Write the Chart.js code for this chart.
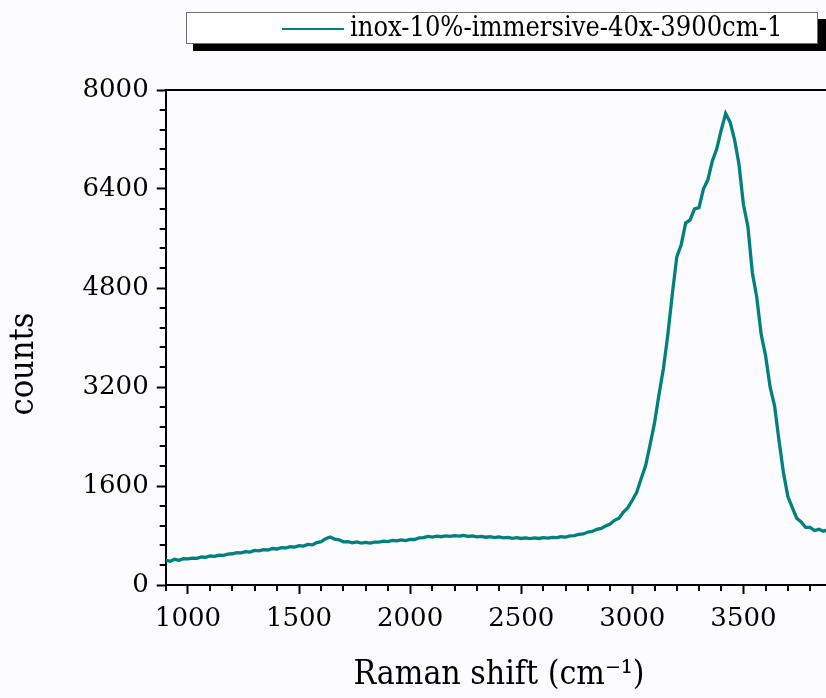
<!DOCTYPE html>
<html><head><meta charset="utf-8">
<script src="https://cdn.jsdelivr.net/npm/chart.js@4.4.1/dist/chart.umd.min.js"></script>
<style>
html,body{margin:0;padding:0;background:#fcfbfe;overflow:hidden;width:826px;height:698px}
#wrap{position:absolute;left:0;top:0;width:834px;height:698px}
</style>
</head><body><div id="wrap"><canvas id="c"></canvas></div>
<script>
const SERIES_LABEL = 'inox-10%-immersive-40x-3900cm-1';
const X_TITLE = 'Raman shift (cm\u207B\u00B9)';
const Y_TITLE = 'counts';
const WAVENUMBER = [900,920,940,960,980,1000,1020,1040,1060,1080,1100,1120,1140,1160,1180,1200,1220,1240,1260,1280,1300,1320,1340,1360,1380,1400,1420,1440,1460,1480,1500,1520,1540,1560,1580,1600,1620,1640,1660,1680,1700,1720,1740,1760,1780,1800,1820,1840,1860,1880,1900,1920,1940,1960,1980,2000,2020,2040,2060,2080,2100,2120,2140,2160,2180,2200,2220,2240,2260,2280,2300,2320,2340,2360,2380,2400,2420,2440,2460,2480,2500,2520,2540,2560,2580,2600,2620,2640,2660,2680,2700,2720,2740,2760,2780,2800,2820,2840,2860,2880,2900,2920,2940,2960,2980,3000,3020,3040,3060,3080,3100,3120,3140,3160,3180,3200,3220,3240,3260,3280,3300,3320,3340,3360,3380,3400,3420,3440,3460,3480,3500,3520,3540,3560,3580,3600,3620,3640,3660,3680,3700,3720,3740,3760,3780,3800,3820,3840,3860,3880];
const COUNTS = [400,385,415,398,425,422,435,430,452,446,
  468,462,484,478,498,505,523,518,540,532,
  558,552,572,566,590,582,604,598,618,612,
  636,628,655,648,685,700,748,775,742,730,
  698,700,682,695,678,688,676,694,692,708,
  700,720,712,728,718,738,735,760,765,785,
  775,790,780,795,786,798,790,800,785,792,
  778,786,772,780,765,776,762,770,755,765,
  752,762,750,760,752,765,758,770,766,780,
  775,795,798,820,825,855,865,900,915,955,
  985,1045,1080,1180,1250,1370,1500,1720,1930,2270,
  2620,3080,3500,4050,4700,5300,5500,5850,5900,6080,
  6100,6400,6550,6850,7050,7350,7620,7480,7200,6800,
  6150,5800,5050,4650,4050,3700,3200,2900,2340,1820,
  1430,1250,1080,1020,930,930,880,900,870,890];
const X_TICKS = [1000,1500,2000,2500,3000,3500];
const Y_TICKS = [0,1600,3200,4800,6400,8000];

const FONT = '"DejaVu Serif Condensed", "DejaVu Serif", serif';
const TICK_FONT = '"DejaVu Serif", serif';
const BG = '#fcfbfe';
const LINE = '#00807f';

const decor = {
  id: 'decor',
  beforeDraw(chart) {
    const {ctx, width, height} = chart;
    ctx.save(); ctx.fillStyle = BG; ctx.fillRect(0, 0, width, height); ctx.restore();
  },
  afterDraw(chart) {
    const {ctx, chartArea: a, scales: {x, y}} = chart;
    ctx.save();
    ctx.strokeStyle = '#000'; ctx.lineWidth = 2;
    ctx.beginPath(); ctx.moveTo(a.left - 1, a.top); ctx.lineTo(a.right, a.top); ctx.stroke();
    ctx.beginPath();
    for (let v = 900; v <= 3900; v += 100) {
      if (v % 500 === 0) continue;
      const px = Math.round(x.getPixelForValue(v));
      ctx.moveTo(px, a.bottom); ctx.lineTo(px, a.bottom + 6);
    }
    for (let v = 320; v < 8000; v += 320) {
      if (v % 1600 === 0) continue;
      const py = Math.round(y.getPixelForValue(v));
      ctx.moveTo(a.left, py); ctx.lineTo(a.left - 6, py);
    }
    ctx.stroke();
    // y title
    ctx.save();
    ctx.translate(24, 364); ctx.rotate(-Math.PI / 2);
    ctx.fillStyle = '#000'; ctx.font = '34px ' + FONT; ctx.textAlign = 'center'; ctx.textBaseline = 'middle';
    ctx.fillText(Y_TITLE, 0, 0);
    ctx.restore();
    // legend
    ctx.fillStyle = '#000'; ctx.fillRect(193, 19, 633, 32);
    ctx.fillStyle = '#fff'; ctx.fillRect(186, 12, 632, 32);
    ctx.strokeStyle = '#6e6e6e'; ctx.lineWidth = 1; ctx.strokeRect(186.5, 12.5, 631, 31);
    ctx.strokeStyle = LINE; ctx.lineWidth = 2;
    ctx.beginPath(); ctx.moveTo(282, 29); ctx.lineTo(344, 29); ctx.stroke();
    ctx.fillStyle = '#000'; ctx.font = '27px ' + FONT; ctx.textAlign = 'left'; ctx.textBaseline = 'middle';
    ctx.fillText(chart.data.datasets[0].label, 350, 29);
    ctx.restore();
  }
};

new Chart(document.getElementById('c'), {
  type: 'line',
  data: {
    datasets: [{
      label: SERIES_LABEL,
      data: WAVENUMBER.map((w, i) => ({x: w, y: COUNTS[i]})),
      borderColor: LINE, borderWidth: 3.3, pointRadius: 0, tension: 0, fill: false
    }]
  },
  options: {
    responsive: true, maintainAspectRatio: false, animation: false,
    layout: {padding: {top: 90, right: 1.7, left: 0, bottom: 0}},
    plugins: {legend: {display: false}, tooltip: {enabled: false}},
    scales: {
      x: {
        type: 'linear', min: 900, max: 3900,
        afterBuildTicks: s => { s.ticks = X_TICKS.map(v => ({value: v})); },
        afterFit: s => { s.height = 113; },
        grid: {display: true, drawOnChartArea: false, drawTicks: true, tickLength: 9, tickWidth: 2, tickColor: '#000'},
        border: {display: true, color: '#000', width: 2},
        ticks: {color: '#000', font: {family: TICK_FONT, size: 26}, padding: 10, maxRotation: 0, autoSkip: false,
                callback: v => String(v)},
        title: {display: true, text: X_TITLE, color: '#000', font: {family: FONT, size: 33.5}, padding: {top: 0, bottom: 3}}
      },
      y: {
        type: 'linear', min: 0, max: 8000,
        afterBuildTicks: s => { s.ticks = Y_TICKS.map(v => ({value: v})); },
        afterFit: s => { s.width = 165.7; },
        grid: {display: true, drawOnChartArea: false, drawTicks: true, tickLength: 9, tickWidth: 2, tickColor: '#000'},
        border: {display: true, color: '#000', width: 2},
        ticks: {color: '#000', font: {family: TICK_FONT, size: 26}, padding: 8, callback: v => String(v)}
      }
    }
  },
  plugins: [decor]
});
</script>
</body></html>
